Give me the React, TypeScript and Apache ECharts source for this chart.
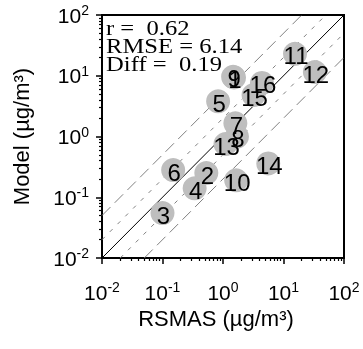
import React, { useEffect, useRef } from 'react';
import * as echarts from 'echarts';

const stations = ['1', '2', '3', '4', '5', '6', '7', '8', '9', '10', '11', '12', '13', '14', '15', '16'];
const rsmas = [1.52, 0.53, 0.1, 0.34, 0.83, 0.15, 1.6, 1.7, 1.47, 1.65, 15.5, 33, 1.1, 5.6, 3.2, 4.4];
const model = [9.4, 0.25, 0.055, 0.14, 3.8, 0.28, 1.65, 1.0, 9.6, 0.19, 23, 11.5, 0.75, 0.36, 4.8, 7.6];

const statLines = ['r =  0.62', 'RMSE = 6.14', 'Diff =  0.19'];

const axisMin = 0.01;
const axisMax = 100;
const decades = [0.01, 0.1, 1, 10, 100];
const minorMultipliers = [2, 3, 4, 5, 6, 7, 8, 9];

const refFactors = [1, 2, 0.5, 5, 0.2];
const xTitle = 'RSMAS (µg/m³)';
const yTitle = 'Model (µg/m³)';

export default function App() {
  const ref = useRef<HTMLDivElement>(null);
  useEffect(() => {
    const chart = echarts.init(ref.current!, null, { renderer: 'svg' });
    const minorTicks: number[] = [];
    decades.slice(0, -1).forEach((d) => minorMultipliers.forEach((m) => minorTicks.push(+(d * m).toPrecision(3))));
    const sans = 'Liberation Sans, Arial, Helvetica, sans-serif';
    const rich = {
      b: { fontSize: 21, fontFamily: sans, color: '#000', lineHeight: 24 },
      e: { fontSize: 14, fontFamily: sans, color: '#000', lineHeight: 14, verticalAlign: 'top' },
    };
    const fmt = (v: number) => `{b|10}{e|${Math.round(Math.log10(v))}}`;
    const majorAxis = (isX: boolean) => ({
      type: 'log',
      logBase: 10,
      min: axisMin,
      max: axisMax,
      axisLine: { show: true, lineStyle: { color: '#000', width: 2 } },
      axisTick: { show: true, inside: false, length: 6, lineStyle: { color: '#000', width: 1.5 }, customValues: decades },
      axisLabel: {
        show: true,
        customValues: decades,
        formatter: fmt,
        rich,
        margin: isX ? 22 : 13,
      },
      splitLine: { show: false },
      minorTick: { show: false },
      name: isX ? xTitle : yTitle,
      nameLocation: 'middle',
      nameGap: isX ? 47 : 70,
      nameTextStyle: { fontSize: 22, fontFamily: sans, color: '#000', padding: isX ? [0, 14, 0, 0] : [0, 0, 0, 0] },
    });
    const minorAxis = () => ({
      type: 'log',
      logBase: 10,
      min: axisMin,
      max: axisMax,
      axisLine: { show: false },
      axisTick: { show: true, inside: false, length: 3, lineStyle: { color: '#000', width: 1.2 }, customValues: minorTicks },
      axisLabel: { show: false },
      splitLine: { show: false },
    });

    const refSeries = refFactors.map((f) => {
      const x0 = Math.max(axisMin, axisMin / f);
      const x1 = Math.min(axisMax, axisMax / f);
      const isOne = f === 1;
      const isTwo = f === 2 || f === 0.5;
      return {
        type: 'line',
        data: [
          [x0, x0 * f],
          [x1, x1 * f],
        ],
        symbol: 'none',
        silent: true,
        z: 1,
        lineStyle: {
          color: isOne ? '#000' : '#808080',
          width: 1,
          type: isOne ? 'solid' : isTwo ? [4, 7] : [12, 6],
        },
      };
    });

    chart.setOption({
      animation: false,
      grid: { left: 102, top: 15, width: 242, height: 243, show: true, borderColor: '#000', borderWidth: 2, backgroundColor: 'transparent' },
      xAxis: [{ ...majorAxis(true), position: 'bottom' }, { ...minorAxis(), position: 'bottom' }],
      yAxis: [{ ...majorAxis(false), position: 'left' }, { ...minorAxis(), position: 'left' }],
      series: [
        ...refSeries,
        {
          type: 'scatter',
          z: 3,
          symbolSize: 24,
          itemStyle: { color: '#bebebe', opacity: 1 },
          label: {
            show: true,
            position: 'inside',
            formatter: '{b}',
            fontSize: 24,
            fontFamily: sans,
            color: '#000',
            offset: [1, 2],
          },
          data: stations.map((s, i) => ({ name: s, value: [rsmas[i], model[i]] })),
        },
      ],
      graphic: [
        {
          type: 'text',
          left: 106,
          top: 16,
          z: 10,
          scaleX: 1.12,
          style: {
            text: statLines.join('\n'),
            font: '22px "Liberation Serif", "Times New Roman", serif',
            lineHeight: 18,
            fill: '#000',
          },
        },
      ],
    });
    return () => chart.dispose();
  }, []);
  return <div ref={ref} style={{ position: 'fixed', left: 0, top: 0, width: 363, height: 349 }} />;
}
